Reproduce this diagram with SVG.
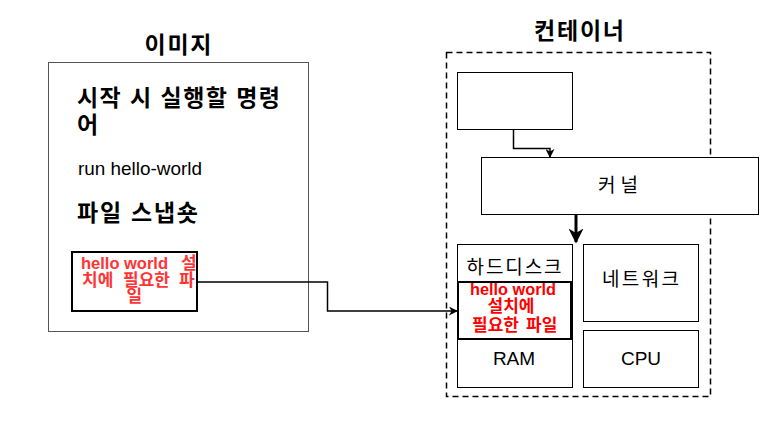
<svg xmlns="http://www.w3.org/2000/svg" width="776" height="434" viewBox="0 0 776 434">
<defs>
<style>
text{font-family:"Liberation Sans","Noto Sans CJK KR",sans-serif;fill:#000}
.t{font-size:23px;font-weight:bold}
.b{fill:#fff;stroke:#000;stroke-width:1}
.thick{fill:#fff;stroke:#000;stroke-width:2}
.lbl{font-size:19px;text-anchor:middle}
.red1{font-size:17px;font-weight:bold;fill:#FF3333}
.red2{font-size:17px;font-weight:bold;fill:#FF0000}
.edge{fill:none;stroke:#000;stroke-width:1.5}
</style>
<marker id="ah" viewBox="0 0 10 10" refX="9" refY="5" markerWidth="9" markerHeight="9" markerUnits="userSpaceOnUse" orient="auto"><path d="M0,0L10,5L0,10L3,5Z" fill="#000"/></marker>
<marker id="ah2" viewBox="0 0 10 10" refX="9" refY="5" markerWidth="15" markerHeight="15" markerUnits="userSpaceOnUse" orient="auto"><path d="M0,0L10,5L0,10L3,5Z" fill="#000"/></marker>
</defs>
<rect width="776" height="434" fill="#fff"/>
<g id="image">
<text class="t" x="178" y="53" text-anchor="middle" textLength="67" lengthAdjust="spacing">이미지</text>
<rect x="48.5" y="62.5" width="260" height="269" fill="#fff" stroke="#555" stroke-width="1"/>
<text class="t" x="77" y="106" textLength="203" lengthAdjust="spacing">시작 시 실행할 명령</text>
<text class="t" x="77" y="133">어</text>
<text x="78" y="175" font-size="18.5" textLength="124" lengthAdjust="spacingAndGlyphs">run hello-world</text>
<text class="t" x="77" y="221" textLength="121" lengthAdjust="spacing">파일 스냅숏</text>
</g>
<g id="image-files">
<rect class="thick" x="72" y="252" width="125" height="59"/>
<text class="red1" y="269"><tspan x="81" textLength="87" lengthAdjust="spacingAndGlyphs">hello world</tspan><tspan x="181">설</tspan></text>
<text class="red1" y="285.5"><tspan x="82">치에</tspan><tspan x="123">필요한</tspan><tspan x="179">파</tspan></text>
<text class="red1" x="126.5" y="302">일</text>
</g>
<g id="container">
<text class="t" x="579" y="39" text-anchor="middle" textLength="90" lengthAdjust="spacing">컨테이너</text>
<rect x="446.5" y="52.5" width="264" height="344" fill="none" stroke="#000" stroke-width="1.5" stroke-dasharray="6,4"/>
</g>
<g id="top-box"><rect class="b" x="457.5" y="72.5" width="115" height="57"/></g>
<g id="kernel">
<rect class="b" x="481.5" y="157.5" width="277" height="57"/>
<text class="lbl" x="618" y="192" textLength="40" lengthAdjust="spacing">커널</text>
</g>
<g id="disk">
<rect class="b" x="457.5" y="244.5" width="115" height="143"/>
<text class="lbl" x="514" y="274" textLength="95" lengthAdjust="spacing">하드디스크</text>
<text class="lbl" x="514" y="365">RAM</text>
</g>
<g id="disk-files">
<rect class="thick" x="458" y="282" width="113" height="57"/>
<text class="red2" x="513" y="294.5" text-anchor="middle" textLength="86" lengthAdjust="spacingAndGlyphs">hello world</text>
<text class="red2" x="511" y="311.5" text-anchor="middle">설치에</text>
<text class="red2" y="331"><tspan x="472">필요한</tspan><tspan x="526">파일</tspan></text>
</g>
<g id="network">
<rect class="b" x="583.5" y="244.5" width="115" height="77"/>
<text class="lbl" x="640.5" y="286" textLength="77" lengthAdjust="spacing">네트워크</text>
</g>
<g id="cpu">
<rect class="b" x="583.5" y="330.5" width="115" height="57"/>
<text class="lbl" x="641" y="365">CPU</text>
</g>
<g id="connectors">
<path class="edge" d="M197,282H327.5V311H457" marker-end="url(#ah)"/>
<path class="edge" d="M513.5,130V148.5H550V157" marker-end="url(#ah)"/>
<path fill="none" stroke="#000" stroke-width="3" d="M576,215V242" marker-end="url(#ah2)"/>
</g>
</svg>
